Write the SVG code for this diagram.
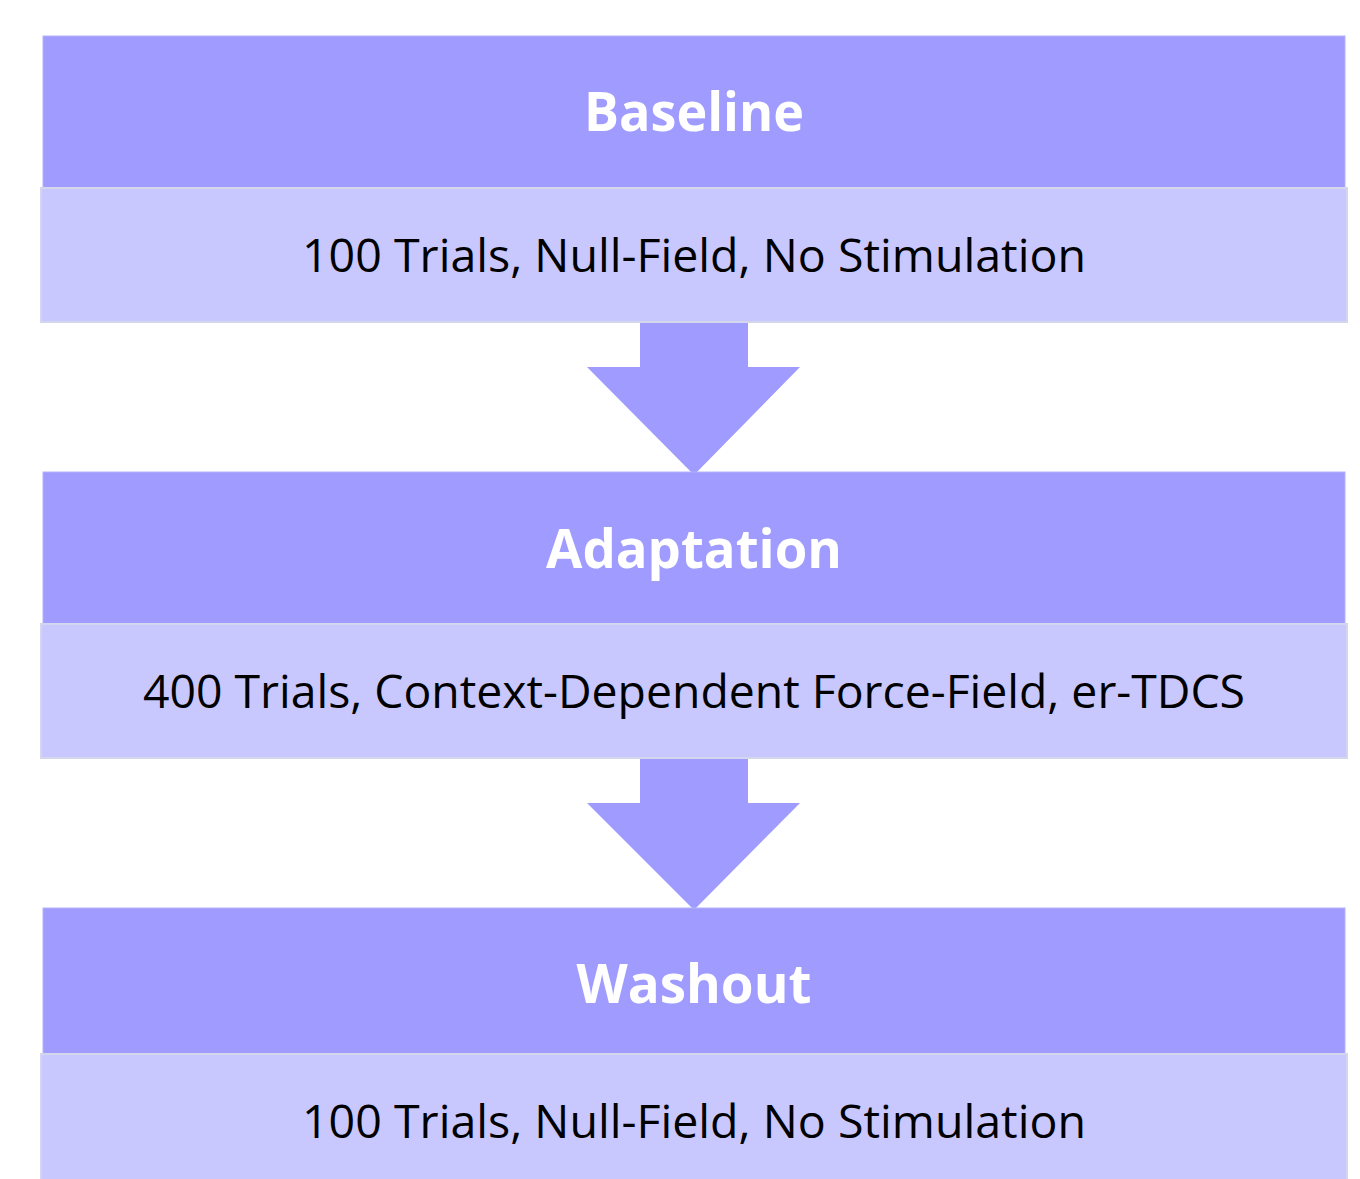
<svg xmlns="http://www.w3.org/2000/svg" width="1360" height="1179" viewBox="0 0 1360 1179">
<style>
.hd{fill:#9f9bff;stroke:#b4b2fb;stroke-width:1}
.bd{fill:#c8c8ff;stroke:#d4d6ee;stroke-width:2}
.ar{fill:#9f9bff}
.ht{font-family:"Open Sans","Noto Sans",sans-serif;font-weight:bold;font-size:54px;fill:#ffffff;text-anchor:middle}
.bt{font-family:"Open Sans","Noto Sans",sans-serif;font-size:46px;fill:#000000;text-anchor:middle}
</style>
<rect width="1360" height="1179" fill="#ffffff"/>
<g id="connectors">
<polygon class="ar" points="640,322 748,322 748,367 800,367 694,475 587,367 640,367"/>
<polygon class="ar" points="640,758 748,758 748,803 800,803 694,910 587,803 640,803"/>
</g>
<g id="baseline">
<rect class="hd" x="43" y="36" width="1302" height="152"/>
<rect class="bd" x="41" y="188" width="1306" height="134"/>
<text class="ht" x="694" y="131" textLength="220" lengthAdjust="spacingAndGlyphs">Baseline</text>
<text class="bt" x="694" y="272" textLength="784" lengthAdjust="spacingAndGlyphs">100 Trials, Null-Field, No Stimulation</text>
</g>
<g id="adaptation">
<rect class="hd" x="43" y="472" width="1302" height="152"/>
<rect class="bd" x="41" y="624" width="1306" height="134"/>
<text class="ht" x="694" y="568" textLength="296" lengthAdjust="spacingAndGlyphs">Adaptation</text>
<text class="bt" x="694" y="708" textLength="1102" lengthAdjust="spacingAndGlyphs">400 Trials, Context-Dependent Force-Field, er-TDCS</text>
</g>
<g id="washout">
<rect class="hd" x="43" y="908" width="1302" height="146"/>
<rect class="bd" x="41" y="1054" width="1306" height="130"/>
<text class="ht" x="694" y="1003" textLength="235" lengthAdjust="spacingAndGlyphs">Washout</text>
<text class="bt" x="694" y="1138" textLength="784" lengthAdjust="spacingAndGlyphs">100 Trials, Null-Field, No Stimulation</text>
</g>
</svg>
